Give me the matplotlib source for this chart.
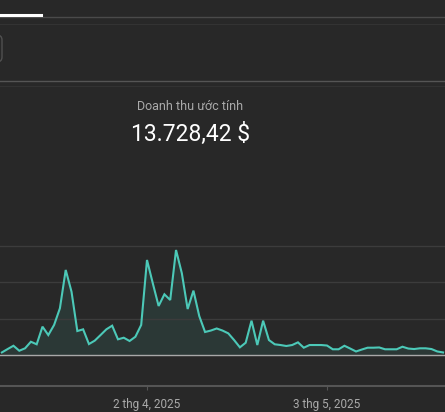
import matplotlib
matplotlib.use("Agg")
import matplotlib.pyplot as plt
from matplotlib.patches import FancyBboxPatch
from matplotlib.lines import Line2D

# day index relative to 2 Apr 2025 (k=0)
days = list(range(-25, 52))
revenue = [21, 49, 76, 35, 55, 109, 88, 233, 164, 247,
           384, 699, 520, 197, 211, 90, 118, 164, 211, 241,
           129, 142, 115, 150, 247, 781, 589, 403, 499, 452,
           863, 672, 378, 529, 320, 189, 201, 218, 201, 178,
           123, 63, 101, 282, 82, 282, 123, 88, 82, 74,
           82, 104, 60, 82, 82, 82, 78, 47, 47, 76,
           53, 29, 45, 60, 60, 62, 47, 47, 47, 68,
           53, 49, 55, 55, 49, 29, 21]
tick_days = [-31, 0, 31]
tick_labels = ["2 thg 3, 2025", "2 thg 4, 2025", "3 thg 5, 2025"]
grid_vals = [300, 600, 900]
title = "Doanh thu ước tính"
total = "13.728,42 $"

BG = "#282828"
LINE = "#4cc9b8"
W, H = 445, 412

fig = plt.figure(figsize=(W / 100, H / 100), dpi=100, facecolor=BG)

def fy(py):  # pixel from top -> figure fraction
    return 1 - py / H

# chart axes: bottom spine at y=385.5 px, top at 230 px
ax = fig.add_axes([0, fy(385.5), 1, fy(230) - fy(385.5)])
ax.set_facecolor(BG)
px = 300 / 36.5  # value per pixel

for g in grid_vals:
    ax.axhline(g, color="#3c3c3c", lw=1)
ax.fill_between(days, revenue, 0, color=LINE, alpha=0.1, lw=0)
ax.axhline(0, color="#a8a8a8", lw=1)
ax.plot(days, revenue, color=LINE, lw=1.5, solid_joinstyle="miter")

for s in ["top", "left", "right"]:
    ax.spines[s].set_visible(False)
ax.spines["bottom"].set_color("#555555")
ax.spines["bottom"].set_linewidth(1.5)
ax.set_yticks([])
ax.set_xticks(tick_days)
ax.set_xticklabels(tick_labels, family="Roboto", fontsize=8.5, color="#aaaaaa")
ax.tick_params(axis="x", length=3, color="#555555", pad=6)
# limits after ticks, so the off-screen tick doesn't widen the view
ax.set_ylim(-(385.5 - 355) * px, (355 - 230) * px)
ax.set_xlim(-147 / 5.806, 298 / 5.806)

# header decorations
fig.add_artist(Line2D([0, 1], [fy(16.5), fy(16.5)], color="#4a4a4a", lw=1))
fig.add_artist(Line2D([0, 41 / W], [fy(14.5), fy(14.5)], color="white", lw=2.2))
fig.add_artist(Line2D([0, 1], [fy(23.5), fy(23.5)], color="#333333", lw=0.8))
fig.add_artist(Line2D([0, 1], [fy(81), fy(81)], color="#555555", lw=1))
fig.add_artist(Line2D([0, 1], [fy(86), fy(86)], color="#323232", lw=0.8))
box = FancyBboxPatch((-30 / W, fy(62)), 32 / W, (62 - 35) / H,
                     boxstyle="round,pad=0,rounding_size=0.012",
                     transform=fig.transFigure, fc="none", ec="#505050", lw=1)
fig.add_artist(box)

fig.text(190 / W, fy(107), title, family="Roboto", fontsize=9,
         color="#aaaaaa", ha="center", va="center")
fig.text(191 / W, fy(134), total, family="Roboto", fontsize=16.5,
         color="white", ha="center", va="center")

fig.savefig("out.png", dpi=100, facecolor=BG)
